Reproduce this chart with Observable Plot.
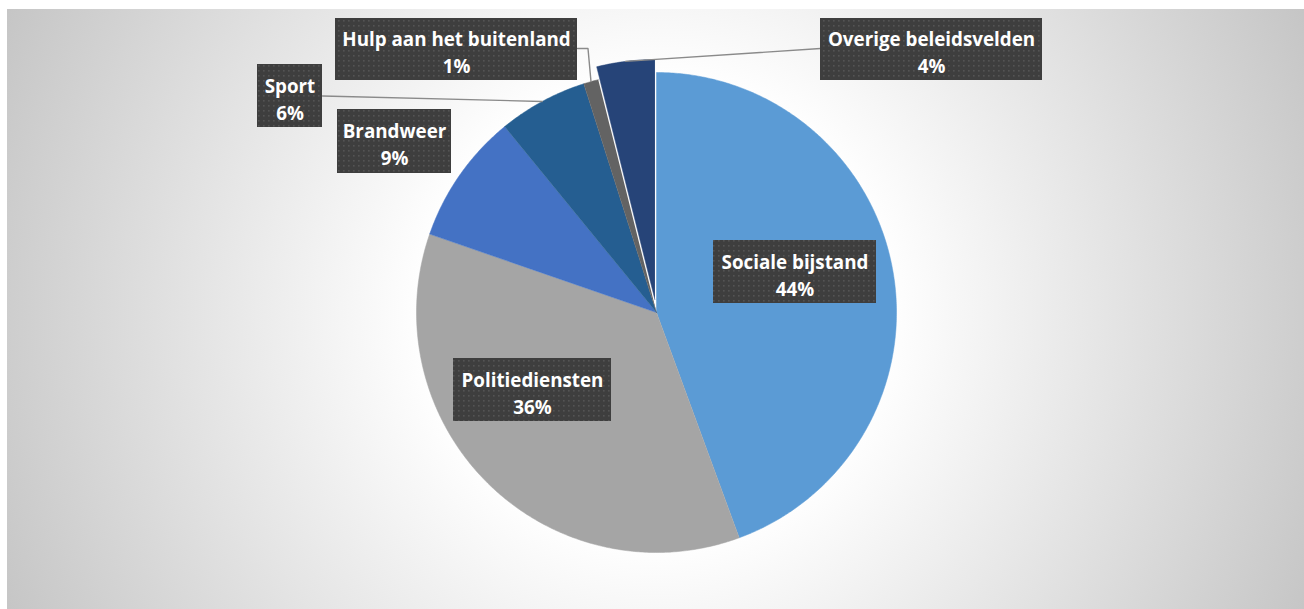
<!DOCTYPE html>
<html><head><meta charset="utf-8">
<script src="https://cdn.jsdelivr.net/npm/d3@7"></script>
<script src="https://cdn.jsdelivr.net/npm/@observablehq/plot@0.6"></script>
<style>
body{margin:0;background:#fff;}
#chart{position:absolute;left:7px;top:9px;}
g[aria-label="label-box"] rect{filter:drop-shadow(3px 3px 2px rgba(0,0,0,0.45));}
</style></head><body>
<svg width="0" height="0" style="position:absolute">
<defs>
<pattern id="dots" width="5" height="5" patternUnits="userSpaceOnUse">
<rect width="5" height="5" fill="#3e3e3e"/>
<rect x="1" y="1" width="1.6" height="1.6" fill="#545454"/>
</pattern></defs></svg>
<div id="chart"></div>
<script>
// ---- data ----
const categories = ["Sociale bijstand", "Politiediensten", "Brandweer", "Sport", "Hulp aan het buitenland", "Overige beleidsvelden"];
const values = [44.4, 35.9, 8.8, 6.0, 1.0, 3.9];
// ---- style / layout ----
const colors = ["#5b9bd5", "#a5a5a5", "#4472c4", "#255e91", "#636363", "#264478"];
const explode = [0, 0, 0, 0, 0, 13];
const W = 1297, H = 600, CX = 649, CY = 303, R = 240;
// label box centre offsets from pie centre (px) and box sizes
const labelDX = [138.5, -124, -262, -366.5, -200, 275];
const labelDY = [-40.5, 77.5, -171, -216.5, -263, -263];
const labelW = [163, 158, 114, 65, 242, 222];
const labelH = [63, 63, 64, 63, 62, 62];
const leaderSide = [null, null, null, "right", "right-elbow", "left"];

const total = d3.sum(values);
let acc = 0;
const slices = values.map((v, i) => {
  const a0 = acc / total * 2 * Math.PI; acc += v;
  const a1 = acc / total * 2 * Math.PI;
  const mid = (a0 + a1) / 2;
  return {cat: categories[i], v, a0, a1, mid,
    ox: explode[i] * Math.sin(mid), oy: -explode[i] * Math.cos(mid)};
});
const pts = [];
for (const s of slices) {
  const cx = CX + s.ox, cy = CY + s.oy;
  pts.push({cat: s.cat, x: cx, y: cy});
  const n = Math.max(2, Math.ceil((s.a1 - s.a0) / (Math.PI / 360)));
  for (let k = 0; k <= n; k++) {
    const a = s.a0 + (s.a1 - s.a0) * k / n;
    pts.push({cat: s.cat, x: cx + R * Math.sin(a), y: cy - R * Math.cos(a)});
  }
}
const fmt = d3.format(".0%");
const labels = slices.map((s, i) => ({
  cat: s.cat,
  text: s.cat + "\n" + fmt(s.v / total),
  x: CX + labelDX[i], y: CY + labelDY[i],
  x1: CX + labelDX[i] - labelW[i] / 2, x2: CX + labelDX[i] + labelW[i] / 2,
  y1: CY + labelDY[i] - labelH[i] / 2, y2: CY + labelDY[i] + labelH[i] / 2
}));
const leaders = [];
slices.forEach((s, i) => {
  const side = leaderSide[i];
  if (!side) return;
  const L = labels[i];
  const ex = CX + s.ox + R * Math.sin(s.mid), ey = CY + s.oy - R * Math.cos(s.mid);
  if (side === "right") {
    leaders.push({id: i, x: L.x2, y: L.y}, {id: i, x: ex, y: ey});
  } else if (side === "left") {
    leaders.push({id: i, x: L.x1, y: L.y - 1}, {id: i, x: ex, y: ey});
  } else {
    leaders.push({id: i, x: L.x2, y: L.y - 1}, {id: i, x: ex - 3, y: L.y - 1}, {id: i, x: ex, y: ey});
  }
});

const chart = Plot.plot({
  width: W, height: H,
  margin: 0,
  x: {domain: [0, W], range: [0, W], axis: null},
  y: {domain: [0, H], range: [0, H], axis: null},
  color: {domain: categories, range: colors},
  style: {
    background: `radial-gradient(circle 720px at ${CX}px ${CY}px, #ffffff 32%, #c5c5c5 100%)`,
    fontFamily: "'Open Sans', sans-serif"
  },
  marks: [
    Plot.line(pts, {x: "x", y: "y", z: "cat", fill: "cat", stroke: "cat", strokeWidth: 0.5, curve: "linear"}),
    Plot.line(leaders, {x: "x", y: "y", z: "id", stroke: "#8a8a8a", strokeWidth: 1.4}),
    Plot.rect(labels, {x1: "x1", x2: "x2", y1: "y1", y2: "y2", fill: "url(#dots)", ariaLabel: "label-box"}),
    Plot.text(labels, {x: "x", y: "y", text: "text", fill: "white", fontSize: 18.8, fontWeight: "bold",
      lineHeight: 1.44, dy: 1.5, fontFamily: "'Open Sans', sans-serif"})
  ]
});
document.getElementById("chart").appendChild(chart);
</script>
</body></html>
